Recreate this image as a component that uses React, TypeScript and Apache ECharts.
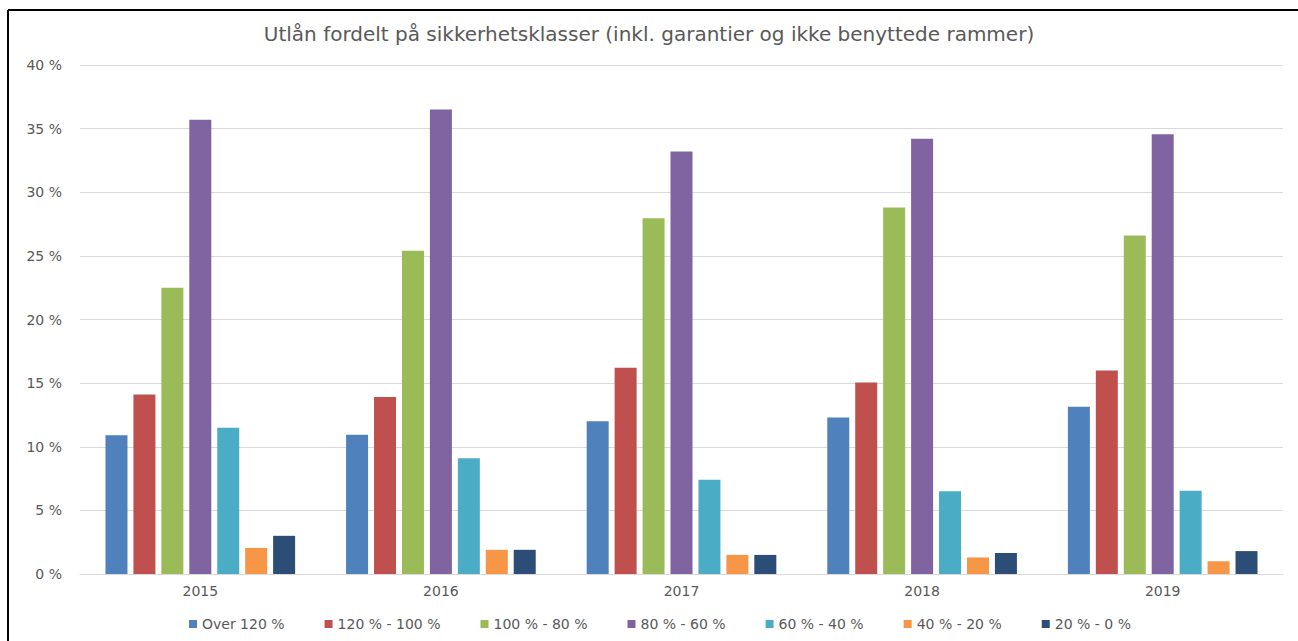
import React, { useEffect, useRef } from "react";
import * as echarts from "echarts";

const categories = ["2015", "2016", "2017", "2018", "2019"];
const seriesNames = ["Over 120 %", "120 % - 100 %", "100 % - 80 %", "80 % - 60 %", "60 % - 40 %", "40 % - 20 %", "20 % - 0 %"];
const over120 = [10.9, 10.95, 12.0, 12.3, 13.15];
const s120to100 = [14.1, 13.9, 16.2, 15.05, 16.0];
const s100to80 = [22.5, 25.4, 27.95, 28.8, 26.6];
const s80to60 = [35.7, 36.5, 33.2, 34.2, 34.55];
const s60to40 = [11.5, 9.1, 7.4, 6.5, 6.55];
const s40to20 = [2.05, 1.9, 1.5, 1.3, 1.0];
const s20to0 = [3.0, 1.9, 1.5, 1.65, 1.8];
const colors = ["#4F81BD", "#C0504D", "#9BBB59", "#8064A2", "#4BACC6", "#F79646", "#2C4D75"];
const yTicks = { min: 0, max: 40, interval: 5 };

export default function App() {
  const ref = useRef<HTMLDivElement>(null);
  useEffect(() => {
    if (!ref.current) return;
    const chart = echarts.init(ref.current, null, { renderer: "svg" });
    const values = [over120, s120to100, s100to80, s80to60, s60to40, s40to20, s20to0];
    chart.setOption({
      animation: false,
      backgroundColor: "#ffffff",
      color: colors,
      title: {
        text: "Utlån fordelt på sikkerhetsklasser (inkl. garantier og ikke benyttede rammer)",
        left: "center",
        top: 19,
        textStyle: { fontFamily: "DejaVu Sans", fontSize: 20, fontWeight: "normal", color: "#595959" },
      },
      legend: {
        bottom: 5,
        left: 184,
        itemWidth: 8,
        itemHeight: 8,
        itemGap: 40,
        icon: "rect",
        textStyle: { fontFamily: "DejaVu Sans", fontSize: 14, color: "#595959" },
        data: seriesNames,
      },
      grid: { left: 80, right: 15, top: 65, bottom: 67 },
      xAxis: {
        type: "category",
        data: categories,
        axisLine: { lineStyle: { color: "#d9d9d9", width: 1 } },
        axisTick: { show: false },
        axisLabel: { color: "#595959", fontFamily: "DejaVu Sans", fontSize: 14, margin: 10 },
      },
      yAxis: {
        type: "value",
        min: yTicks.min,
        max: yTicks.max,
        interval: yTicks.interval,
        axisLine: { show: false },
        axisTick: { show: false },
        splitLine: { lineStyle: { color: "#d9d9d9", width: 1 } },
        axisLabel: { color: "#595959", fontFamily: "DejaVu Sans", fontSize: 14, margin: 18, formatter: "{value} %" },
      },
      graphic: [
        { type: "line", shape: { x1: 8, y1: 10, x2: 1298, y2: 10 }, style: { stroke: "#000", lineWidth: 2 } },
        { type: "line", shape: { x1: 8, y1: 10, x2: 8, y2: 641 }, style: { stroke: "#000", lineWidth: 2 } },
      ],
      series: seriesNames.map((name, i) => ({
        name,
        type: "bar",
        data: values[i],
        barWidth: 22,
        barGap: "27%",
        itemStyle: { color: colors[i] },
      })),
    });
    return () => chart.dispose();
  }, []);
  return <div ref={ref} style={{ position: "fixed", left: 0, top: 0, width: 1298, height: 641 }} />;
}
